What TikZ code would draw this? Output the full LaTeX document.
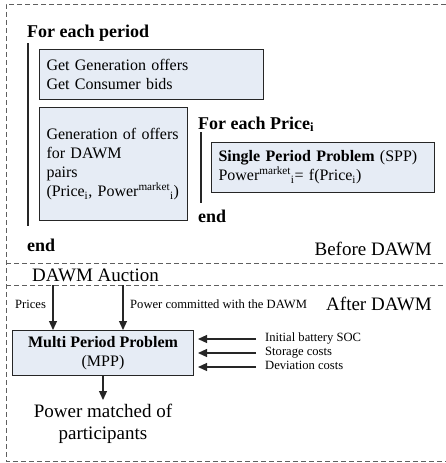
\documentclass[tikz,border=0pt]{standalone}
\usepackage{fontspec}
\setmainfont{Liberation Serif}
\usetikzlibrary{arrows.meta}
\definecolor{boxfill}{RGB}{230,236,245}
\definecolor{framegray}{RGB}{95,95,95}
\begin{document}
\begin{tikzpicture}[x=1pt,y=-1pt,
 frame/.style={framegray,line width=1pt,dash pattern=on 5pt off 3pt},
 box/.style={draw=black!85,fill=boxfill,line width=1pt,inner xsep=7pt,inner ysep=0pt,align=left,anchor=north west,font=\fontsize{16}{19}\selectfont},
 head/.style={font=\bfseries\fontsize{18}{21}\selectfont,inner sep=0pt,anchor=base west},
 bigtext/.style={font=\fontsize{19}{22}\selectfont,inner sep=0pt},
 smalltext/.style={font=\fontsize{12.6}{15}\selectfont,inner sep=0pt},
 inlabel/.style={smalltext,anchor=west,inner xsep=9pt,text height=8.6pt,text depth=2.7pt},
 loopline/.style={black!85,line width=1.2pt},
 arr/.style={-{Triangle[length=9pt,width=8pt]},black!85,line width=1.2pt}]
 \useasboundingbox (0,0) rectangle (446,463);
 \draw[frame] (446,4) -- (6,4) -- (6,461) -- (446,461);
 \draw[frame] (6,263) -- (446,263);
 \draw[frame] (6,285) -- (446,285);
 \node[head] (period) at (27,37) {For each period};
 \draw[loopline] (28,43) -- (28,226);
 \node[box,minimum width=224pt,minimum height=50pt,text width=210pt] (offers) at (39,49) {Get Generation offers\\Get Consumer bids};
 \node[box,minimum width=148pt,minimum height=113pt,text width=134pt] (pairs) at (39,107) {Generation of offers\\for DAWM\\pairs\\(Price\textsubscript{i}, Power\textsuperscript{market}\textsubscript{i})};
 \node[head] (price) at (198,129) {For each Price\textsubscript{i}};
 \draw[loopline] (201,132) -- (201,203);
 \node[box,minimum width=223pt,minimum height=50pt,text width=209pt] (spp) at (211,142) {\textbf{Single Period Problem} (SPP)\\Power\textsuperscript{market}\textsubscript{i}= f(Price\textsubscript{i})};
 \node[head] (endprice) at (198,222) {end};
 \node[head] (endperiod) at (27,251) {end};
 \node[bigtext,anchor=base east] (before) at (432,255) {Before DAWM};
 \node[bigtext,anchor=base west] (auction) at (32,281) {DAWM Auction};
 \node[bigtext,anchor=base east] (after) at (432,310) {After DAWM};
 \node[smalltext,anchor=base west] (prices) at (15,308) {Prices};
 \node[smalltext,anchor=base west] (committed) at (130,308) {Power committed with the DAWM};
 \node[box,align=center,minimum width=181pt,minimum height=45pt] (mpp) at (12,330) {\textbf{Multi Period Problem}\\(MPP)};
 \coordinate (pricestop) at (53,285);
 \coordinate (committedtop) at (123,285);
 \draw[arr] (pricestop) -- (pricestop |- mpp.north);
 \draw[arr] (committedtop) -- (committedtop |- mpp.north);
 \node[inlabel] (soc) at (256,339) {Initial battery SOC};
 \node[inlabel] (storage) at (256,353) {Storage costs};
 \node[inlabel] (deviation) at (256,367) {Deviation costs};
 \draw[arr,shorten >=4pt] (soc.west) -- (mpp.east |- soc.west);
 \draw[arr,shorten >=4pt] (storage.west) -- (mpp.east |- storage.west);
 \draw[arr,shorten >=4pt] (deviation.west) -- (mpp.east |- deviation.west);
 \node[bigtext,align=center,anchor=north] (matched) at (103,404) {Power matched of\\participants};
 \draw[arr,shorten >=4pt] (mpp.south) -- (mpp.south |- matched.north);
\end{tikzpicture}
\end{document}
